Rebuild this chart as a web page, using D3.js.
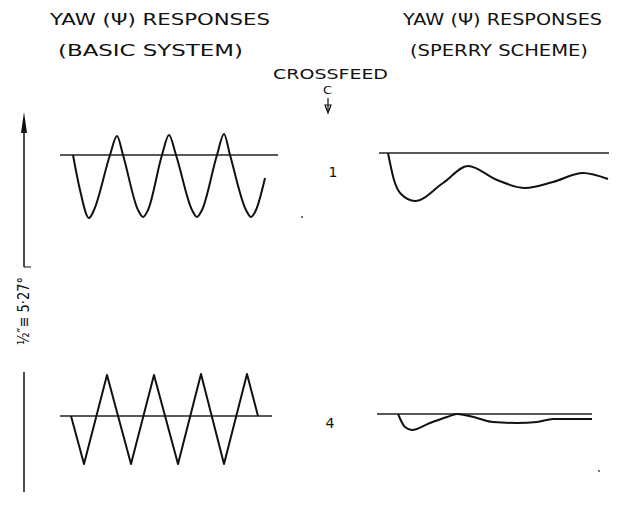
<!DOCTYPE html>
<html>
<head>
<meta charset="utf-8">
<script src="https://cdn.jsdelivr.net/npm/d3@7"></script>
<style>
  html, body { margin: 0; padding: 0; background: #fff; }
  text { font-family: "DejaVu Sans", sans-serif; fill: #111; }
</style>
</head>
<body>
<div id="chart"></div>
<script>
const width = 629;
const height = 506;

// crossfeed settings shown in the middle column
const crossfeed = ["1", "4"];

// yaw responses: [time, yaw] (time in arbitrary units, yaw below the line is negative)
const basicC1 = [
    [1.3, 0], [2.0, -3.5], [2.9, -6.3], [3.4, -5.5], [5.0, 0], [5.7, 1.9], [6.3, 0],
    [7.8, -5.5], [8.3, -6.2], [8.8, -5.5], [10.2, 0], [10.9, 2.0], [11.6, 0],
    [13.2, -5.5], [13.7, -6.2], [14.2, -5.5], [15.7, 0], [16.4, 2.1], [17.0, 0],
    [18.6, -5.5], [19.1, -6.2], [19.6, -5.5], [20.5, -2.3]
];
const sperryC1 = [
    [0.9, 0], [1.5, -2.7], [2.2, -4.1], [3.6, -4.8], [6.4, -3.0], [8.9, -1.3],
    [11.8, -2.7], [14.6, -3.5], [17.4, -2.9], [20.4, -2.0], [22.9, -2.6]
];
const basicC4 = [
    [1.1, 0], [2.4, -4.8], [4.7, 4.1], [7.1, -4.8], [9.4, 4.1], [11.8, -4.8],
    [14.1, 4.2], [16.4, -4.8], [18.7, 4.2], [19.8, 0]
];
const sperryC4 = [
    [2.1, 0], [2.8, -1.3], [3.5, -1.6], [5.3, -0.9], [7.0, -0.3], [8.0, 0],
    [10.0, -0.4], [11.6, -0.8], [14.0, -0.9], [16.0, -0.8], [17.6, -0.5], [21.5, -0.5]
];

// length of each zero line (time units)
const timeSpan = [21.8, 23.0, 21.2, 21.5];

const svg = d3.select("#chart")
    .append("svg")
    .attr("width", width)
    .attr("height", height)
    .style("background-color", "#fff");

// panel placement
const panels = [
    {data: basicC1, span: timeSpan[0], x0: 60, y0: 155, curve: d3.curveMonotoneX},
    {data: sperryC1, span: timeSpan[1], x0: 379, y0: 153, curve: d3.curveMonotoneX},
    {data: basicC4, span: timeSpan[2], x0: 60, y0: 416, curve: d3.curveLinear},
    {data: sperryC4, span: timeSpan[3], x0: 377, y0: 414, curve: d3.curveMonotoneX}
];
const pxPerUnit = 10;

panels.forEach(p => {
    const x = d3.scaleLinear().domain([0, p.span]).range([p.x0, p.x0 + p.span * pxPerUnit]);
    const y = d3.scaleLinear().domain([-1, 1]).range([p.y0 + pxPerUnit, p.y0 - pxPerUnit]);

    // zero line
    svg.append("line")
        .attr("x1", x(0)).attr("x2", x(p.span))
        .attr("y1", y(0)).attr("y2", y(0))
        .attr("stroke", "#222")
        .attr("stroke-width", 1.3);

    const line = d3.line()
        .x(d => x(d[0]))
        .y(d => y(d[1]))
        .curve(p.curve);

    svg.append("path")
        .datum(p.data)
        .attr("d", line)
        .attr("fill", "none")
        .attr("stroke", "#111")
        .attr("stroke-width", 2)
        .attr("stroke-linejoin", "round");
});

// headings
const heads = [
    {t: "YAW (Ψ) RESPONSES", x: 50, y: 25, w: 220, fs: 16},
    {t: "(BASIC SYSTEM)", x: 58, y: 56, w: 185, fs: 16},
    {t: "YAW (Ψ) RESPONSES", x: 403, y: 25, w: 199, fs: 16},
    {t: "(SPERRY SCHEME)", x: 410, y: 56, w: 178, fs: 16},
    {t: "CROSSFEED", x: 273, y: 79, w: 115, fs: 14},
    {t: "C", x: 323, y: 94, w: 9, fs: 10}
];
svg.selectAll("text.head")
    .data(heads)
    .enter().append("text")
    .attr("class", "head")
    .attr("x", d => d.x)
    .attr("y", d => d.y)
    .attr("font-size", d => d.fs)
    .attr("textLength", d => d.w)
    .attr("lengthAdjust", "spacingAndGlyphs")
    .text(d => d.t);

// crossfeed arrow
svg.append("line")
    .attr("x1", 328).attr("x2", 328).attr("y1", 98).attr("y2", 112)
    .attr("stroke", "#111").attr("stroke-width", 1.2);
svg.append("path")
    .attr("d", "M325,105 L331,105 L328,113 Z")
    .attr("fill", "none").attr("stroke", "#111").attr("stroke-width", 1.2);

// crossfeed values
svg.selectAll("text.cf")
    .data(crossfeed)
    .enter().append("text")
    .attr("class", "cf")
    .attr("x", (d, i) => i === 0 ? 333 : 330)
    .attr("y", (d, i) => i === 0 ? 177 : 428)
    .attr("text-anchor", "middle")
    .attr("font-size", 14)
    .text(d => d);

// vertical scale arrow
svg.append("line")
    .attr("x1", 24).attr("x2", 24).attr("y1", 125).attr("y2", 267)
    .attr("stroke", "#111").attr("stroke-width", 1.5);
svg.append("line")
    .attr("x1", 24).attr("x2", 24).attr("y1", 372).attr("y2", 492)
    .attr("stroke", "#111").attr("stroke-width", 1.5);
svg.append("path")
    .attr("d", "M24,112 L21,133 L27,133 Z")
    .attr("fill", "#111");
svg.append("line")
    .attr("x1", 24).attr("x2", 31).attr("y1", 267).attr("y2", 267)
    .attr("stroke", "#111").attr("stroke-width", 1);

svg.append("text")
    .attr("transform", "translate(29,345) rotate(-90)")
    .attr("font-size", 15)
    .attr("textLength", 68)
    .attr("lengthAdjust", "spacingAndGlyphs")
    .text("½″≡ 5·27°");

// specks on the scan
svg.append("circle").attr("cx", 302).attr("cy", 217).attr("r", 0.9).attr("fill", "#333");
svg.append("circle").attr("cx", 599).attr("cy", 471).attr("r", 0.9).attr("fill", "#333");
</script>
</body>
</html>
